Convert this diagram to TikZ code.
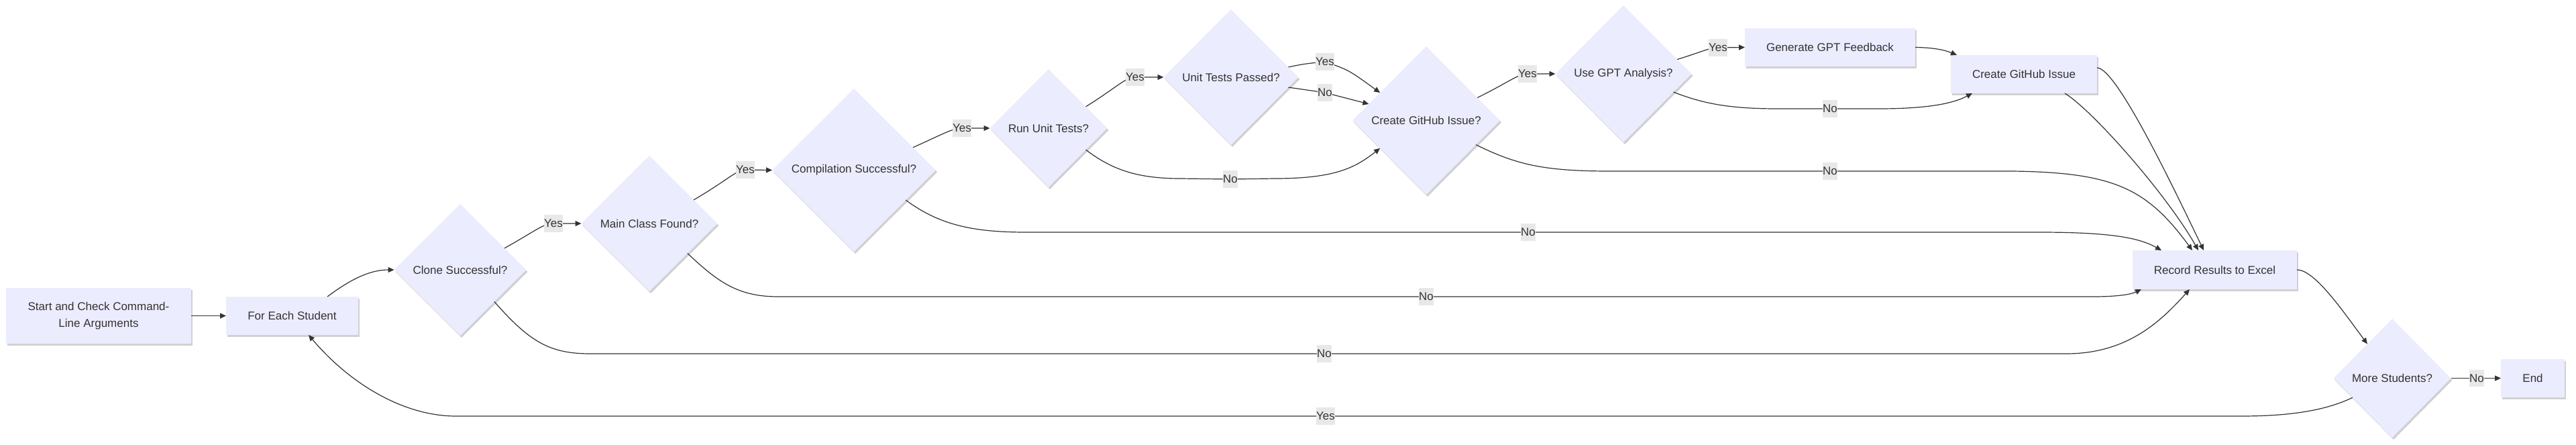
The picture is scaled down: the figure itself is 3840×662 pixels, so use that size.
\documentclass[tikz,border=0pt]{standalone}
\usepackage{fontspec}
\setmainfont{Liberation Sans}
\usetikzlibrary{arrows.meta,shapes.geometric,shadows}
\definecolor{nodefill}{HTML}{ECECFF}
\definecolor{txt}{HTML}{333333}
\definecolor{lblbg}{HTML}{E8E8E8}
\begin{document}
\begin{tikzpicture}[x=1pt,y=-1pt,
  every node/.style={font=\fontsize{17}{25.5}\selectfont, text=txt},
  shad/.style={drop shadow={shadow xshift=2pt,shadow yshift=-3pt,opacity=0.18,fill=black}},
  boxnode/.style={rectangle, fill=nodefill, inner sep=0pt, outer sep=0pt, shad},
  decision/.style={diamond, fill=nodefill, inner sep=0pt, outer sep=0pt, shad},
  conn/.style={draw=txt, line width=1.2pt, -{Triangle[length=9pt,width=8pt]}},
  lbl/.style={fill=lblbg, inner xsep=0.5pt, inner ysep=6pt, text height=12.5pt, text depth=1pt}]
\useasboundingbox (0,0) rectangle (3840,662);

% nodes
\node[boxnode, minimum width=276pt, minimum height=83pt, align=center] (start) at (147,470.5) {Start and Check Command-\\Line Arguments};
\node[boxnode, minimum width=197pt, minimum height=57pt] (each) at (435.5,470.5) {For Each Student};
\node[decision, minimum width=197pt, minimum height=196pt] (clone) at (686,402) {Clone Successful?};
\node[decision, minimum width=203pt, minimum height=202pt] (mainc) at (968,333) {Main Class Found?};
\node[decision, minimum width=244pt, minimum height=243pt] (comp) at (1273,253.5) {Compilation Successful?};
\node[decision, minimum width=175pt, minimum height=176pt] (run) at (1563,191) {Run Unit Tests?};
\node[decision, minimum width=201pt, minimum height=202pt] (passed) at (1835,115) {Unit Tests Passed?};
\node[decision, minimum width=220pt, minimum height=221pt] (ghq) at (2126,179.5) {Create GitHub Issue?};
\node[decision, minimum width=203pt, minimum height=204pt] (gpt) at (2420,110) {Use GPT Analysis?};
\node[boxnode, minimum width=254pt, minimum height=57pt] (gen) at (2728,70.5) {Generate GPT Feedback};
\node[boxnode, minimum width=218pt, minimum height=57pt] (issue) at (3017,110.5) {Create GitHub Issue};
\node[boxnode, minimum width=245pt, minimum height=58pt] (record) at (3301.5,402) {Record Results to Excel};
\node[decision, minimum width=175pt, minimum height=177pt] (more) at (3566,563.5) {More Students?};
\node[boxnode, minimum width=95pt, minimum height=57pt] (end) at (3775.5,563.5) {End};

% connectors
\draw[conn] (start.east) -- (each.west);
\draw[conn] ([xshift=-46pt]each.north east) .. controls (520,418) and (550,402) .. (clone.west);
\draw[conn] (clone.26) .. controls (800,343) and (810,333) .. (825,333) node[lbl]{Yes} -- (mainc.west);
\draw[conn] (mainc.28) .. controls (1085,268) and (1098,253) .. (1111,253) node[lbl]{Yes} -- (comp.west);
\draw[conn] (comp.21) .. controls (1405,200) and (1420,191) .. (1434,191) node[lbl]{Yes} -- (run.west);
\draw[conn] (run.30) .. controls (1665,130) and (1678,115) .. (1692,115) node[lbl]{Yes} -- (passed.west);
\draw[conn] (passed.10) .. controls (1945,95) .. (1975,92) node[lbl]{Yes} .. controls (2010,104) .. (ghq.149);
\draw[conn] (passed.-10) -- (1975,138) node[lbl]{No} -- (ghq.164);
\draw[conn] (run.-30) .. controls (1660,255) and (1700,266) .. (1760,266) -- (1834,267) node[lbl]{No} -- (1900,266) .. controls (1990,266) and (2020,250) .. (ghq.-149);
\draw[conn] (ghq.24) .. controls (2250,122) and (2263,110) .. (2277,110) node[lbl]{Yes} -- (gpt.west);
\draw[conn] (gpt.15) .. controls (2535,78) and (2548,71) .. (2561,71) node[lbl]{Yes} -- (gen.west);
\draw[conn] (gpt.-20) .. controls (2540,155) and (2580,162) .. (2650,162) -- (2728,162) node[lbl]{No} -- (2800,162) .. controls (2870,162) and (2910,155) .. ([xshift=32pt]issue.south west);
\draw[conn] (gen.east) .. controls (2885,71) and (2900,75) .. ([xshift=9pt]issue.north west);
\draw[conn] ([yshift=9.5pt]issue.east) .. controls (3155,101) and (3240,280) .. ([xshift=106pt]record.north west);
\draw[conn] ([xshift=-48pt]issue.south east) .. controls (3120,165) and (3230,290) .. ([xshift=98pt]record.north west);
\draw[conn] (ghq.-26) .. controls (2260,245) and (2300,255) .. (2400,255) -- (2728,255) node[lbl]{No} -- (3000,255) .. controls (3150,257) and (3200,280) .. ([xshift=89pt]record.north west);
\draw[conn] (comp.-30) .. controls (1400,335) and (1450,346) .. (1530,346) -- (2278,346) node[lbl]{No} -- (3040,346) .. controls (3150,346) and (3190,355) .. ([xshift=43pt]record.north west);
\draw[conn] (mainc.-38) .. controls (1070,420) and (1100,442) .. (1160,442) -- (2126,442) node[lbl]{No} -- (3120,442) .. controls (3160,442) and (3178,438) .. ([xshift=13pt]record.south west);
\draw[conn] (clone.-43) .. controls (790,510) and (820,527) .. (880,527) -- (1974,527) node[lbl]{No} -- (3080,527) .. controls (3170,527) and (3220,480) .. ([xshift=85pt]record.south west);
\draw[conn] (record.east) .. controls (3450,402) and (3490,460) .. (more.126);
\draw[conn] (more.east) -- (3692,563.5) node[lbl]{No} -- (end.west);
\draw[conn] (more.-154) .. controls (3470,610) and (3420,620) .. (3340,620) -- (1976,620) node[lbl]{Yes} -- (680,620) .. controls (600,620) and (520,570) .. ([xshift=123pt]each.south west);
\end{tikzpicture}
\end{document}
